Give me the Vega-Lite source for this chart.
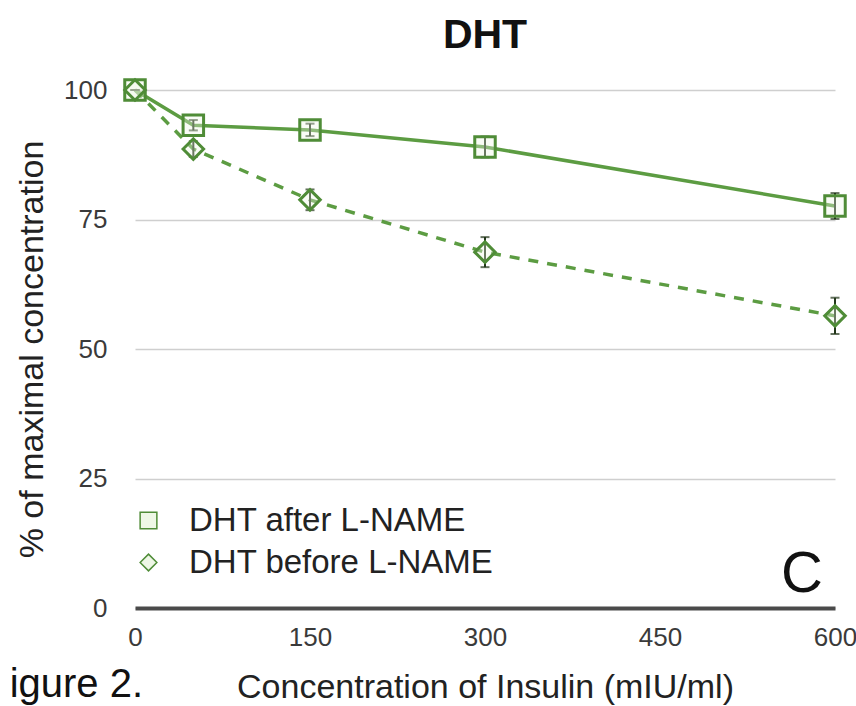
{
  "$schema": "https://vega.github.io/schema/vega-lite/v6.json",
  "width": 700,
  "height": 518,
  "autosize": {"type": "none"},
  "padding": {"left": 135, "top": 90, "right": 21, "bottom": 98},
  "background": "white",
  "config": {
    "font": "Liberation Sans",
    "view": {"stroke": null}
  },
  "datasets": {
    "series": [
      {"insulin": 0, "pct": 100, "lo": 100, "hi": 100, "group": "DHT after L-NAME"},
      {"insulin": 50, "pct": 93.2, "lo": 92.2, "hi": 94.2, "group": "DHT after L-NAME"},
      {"insulin": 150, "pct": 92.3, "lo": 91.1, "hi": 93.5, "group": "DHT after L-NAME"},
      {"insulin": 300, "pct": 89.0, "lo": 87.0, "hi": 91.0, "group": "DHT after L-NAME"},
      {"insulin": 600, "pct": 77.6, "lo": 75.1, "hi": 80.1, "group": "DHT after L-NAME"},
      {"insulin": 0, "pct": 100, "lo": 100, "hi": 100, "group": "DHT before L-NAME"},
      {"insulin": 50, "pct": 88.6, "lo": 87.1, "hi": 90.1, "group": "DHT before L-NAME"},
      {"insulin": 150, "pct": 78.8, "lo": 76.8, "hi": 80.8, "group": "DHT before L-NAME"},
      {"insulin": 300, "pct": 68.7, "lo": 65.8, "hi": 71.6, "group": "DHT before L-NAME"},
      {"insulin": 600, "pct": 56.4, "lo": 52.9, "hi": 59.9, "group": "DHT before L-NAME"}
    ],
    "notes": [
      {"insulin": 6.9, "pct": -17.2, "label": "igure 2.", "kind": "fig"},
      {"insulin": 571.7, "pct": 3.1, "label": "C", "kind": "panel"},
      {"insulin": 300, "pct": 108.1, "label": "DHT", "kind": "title"}
    ]
  },
  "layer": [
    {
      "data": {"name": "series"},
      "transform": [{"filter": "datum.group === 'DHT after L-NAME'"}],
      "mark": {"type": "line", "strokeWidth": 3.5, "color": "#5c9c42"},
      "encoding": {
        "x": {
          "field": "insulin", "type": "quantitative",
          "scale": {"domain": [0, 600], "nice": false},
          "axis": {
            "values": [0, 150, 300, 450, 600],
            "title": "Concentration of Insulin (mIU/ml)",
            "titleFontSize": 34, "titleFontWeight": "normal", "titleColor": "#222", "titlePadding": 20,
            "labelFontSize": 26, "labelColor": "#3a3a3a", "labelPadding": 16, "labelFlush": false,
            "grid": false, "ticks": false,
            "domainColor": "#4a4a4a", "domainWidth": 4
          }
        },
        "y": {
          "field": "pct", "type": "quantitative",
          "scale": {"domain": [0, 100], "nice": false},
          "axis": {
            "values": [0, 25, 50, 75, 100],
            "title": "% of maximal concentration",
            "titleFontSize": 34, "titleFontWeight": "normal", "titleColor": "#222", "titlePadding": 14,
            "labelFontSize": 26, "labelColor": "#3a3a3a", "labelPadding": 28,
            "grid": true, "gridColor": "#cfcfcf", "gridWidth": 1.5,
            "ticks": false, "domain": false
          }
        }
      }
    },
    {
      "data": {"name": "series"},
      "transform": [{"filter": "datum.group === 'DHT before L-NAME'"}],
      "mark": {"type": "line", "strokeWidth": 3.5, "color": "#5c9c42", "strokeDash": [10, 9]},
      "encoding": {
        "x": {"field": "insulin", "type": "quantitative"},
        "y": {"field": "pct", "type": "quantitative"}
      }
    },
    {
      "data": {"name": "series"},
      "mark": {"type": "rule", "color": "#22361a", "strokeWidth": 2},
      "encoding": {
        "x": {"field": "insulin", "type": "quantitative"},
        "y": {"field": "lo", "type": "quantitative"},
        "y2": {"field": "hi"}
      }
    },
    {
      "data": {"name": "series"},
      "mark": {"type": "tick", "orient": "horizontal", "color": "#22361a", "size": 9, "thickness": 2},
      "encoding": {
        "x": {"field": "insulin", "type": "quantitative"},
        "y": {"field": "lo", "type": "quantitative"}
      }
    },
    {
      "data": {"name": "series"},
      "mark": {"type": "tick", "orient": "horizontal", "color": "#22361a", "size": 9, "thickness": 2},
      "encoding": {
        "x": {"field": "insulin", "type": "quantitative"},
        "y": {"field": "hi", "type": "quantitative"}
      }
    },
    {
      "data": {"name": "series"},
      "mark": {"type": "point", "filled": false, "color": "#4f8c37", "fill": "#eef7e6", "fillOpacity": 0.35, "strokeWidth": 3, "opacity": 1, "size": 420},
      "encoding": {
        "x": {"field": "insulin", "type": "quantitative"},
        "y": {"field": "pct", "type": "quantitative"},
        "shape": {
          "field": "group", "type": "nominal",
          "scale": {"domain": ["DHT after L-NAME", "DHT before L-NAME"], "range": ["square", "diamond"]},
          "legend": {
            "title": null, "orient": "none", "legendX": -3, "legendY": 414, "padding": 0,
            "labelFontSize": 33, "labelColor": "#222", "labelOffset": 24, "labelFont": "Liberation Sans", "labelLimit": 500,
            "symbolSize": 280,
            "rowPadding": 8,
            "encode": {
              "symbols": {
                "update": {
                  "stroke": {"value": "#5c9c42"},
                  "strokeWidth": {"value": 3},
                  "fill": {"value": "#e6f3dc"},
                  "opacity": {"value": 1},
                  "fillOpacity": {"value": 1},
                  "strokeOpacity": {"value": 1}
                }
              }
            }
          }
        }
      }
    },
    {
      "data": {"name": "notes"},
      "transform": [{"filter": "datum.kind === 'fig'"}],
      "mark": {"type": "text", "align": "right", "baseline": "alphabetic", "fontSize": 40, "color": "#111", "clip": false},
      "encoding": {
        "x": {"field": "insulin", "type": "quantitative"},
        "y": {"field": "pct", "type": "quantitative"},
        "text": {"field": "label"}
      }
    },
    {
      "data": {"name": "notes"},
      "transform": [{"filter": "datum.kind === 'panel'"}],
      "mark": {"type": "text", "align": "center", "baseline": "alphabetic", "fontSize": 58, "fontWeight": "normal", "color": "#111"},
      "encoding": {
        "x": {"field": "insulin", "type": "quantitative"},
        "y": {"field": "pct", "type": "quantitative"},
        "text": {"field": "label"}
      }
    },
    {
      "data": {"name": "notes"},
      "transform": [{"filter": "datum.kind === 'title'"}],
      "mark": {"type": "text", "align": "center", "baseline": "alphabetic", "fontSize": 41, "fontWeight": "bold", "color": "#111", "clip": false},
      "encoding": {
        "x": {"field": "insulin", "type": "quantitative"},
        "y": {"field": "pct", "type": "quantitative"},
        "text": {"field": "label"}
      }
    }
  ]
}
